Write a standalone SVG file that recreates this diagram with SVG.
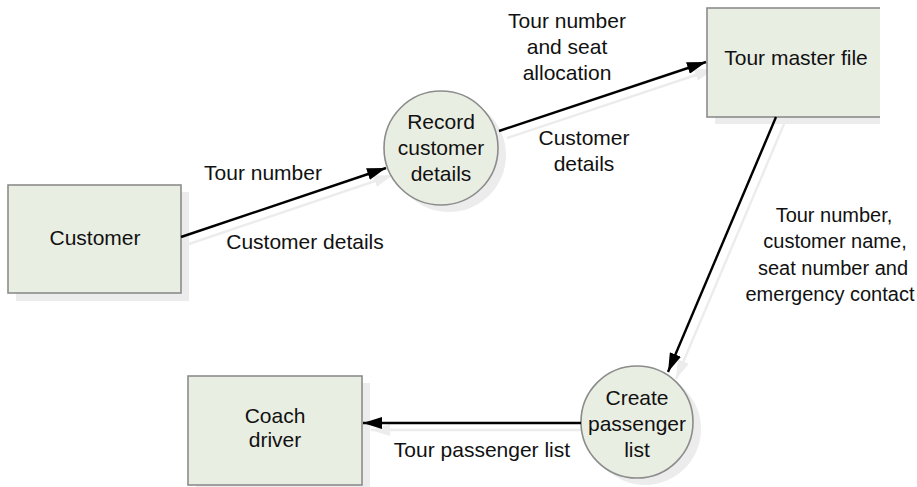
<svg xmlns="http://www.w3.org/2000/svg" width="917" height="487" viewBox="0 0 917 487">
  <style>
    .node { fill: #e9eee3; stroke: #8c8c8c; stroke-width: 1.6; }
    .shadow { fill: #ececec; stroke: none; }
    .flow { stroke: #000; stroke-width: 2.4; fill: none; marker-end: url(#arrow); }
    .flow-shadow { stroke: #ececec; stroke-width: 2.4; fill: none; marker-end: url(#arrow-shadow); }
    text { font-family: "Liberation Sans", Arial, sans-serif; font-size: 21px; fill: #111; text-anchor: middle; }
    .side { font-size: 20px; }
  </style>
  <defs>
    <marker id="arrow" markerUnits="userSpaceOnUse" markerWidth="20" markerHeight="12" refX="19" refY="6" orient="auto">
      <path d="M0,0 L19,6 L0,12 Z" fill="#000"/>
    </marker>
    <marker id="arrow-shadow" markerUnits="userSpaceOnUse" markerWidth="20" markerHeight="12" refX="19" refY="6" orient="auto">
      <path d="M0,0 L19,6 L0,12 Z" fill="#ececec"/>
    </marker>
    <clipPath id="page-edge">
      <rect x="0" y="0" width="880" height="487"/>
    </clipPath>
  </defs>

  <!-- drop shadows of the data flows -->
  <g id="flow-shadows">
    <line class="flow-shadow" x1="189" y1="244" x2="393" y2="175"/>
    <line class="flow-shadow" x1="507" y1="138" x2="714" y2="69"/>
    <line class="flow-shadow" x1="784" y1="124" x2="676" y2="379"/>
    <line class="flow-shadow" x1="589" y1="430" x2="371" y2="430"/>
  </g>

  <g id="customer">
    <rect class="shadow" x="16" y="192" width="173" height="109"/>
    <rect class="node" x="8" y="185" width="173" height="108"/>
    <text x="95" y="245">Customer</text>
  </g>

  <g id="record-customer-details">
    <circle class="shadow" cx="449" cy="155" r="57"/>
    <circle class="node" cx="441" cy="148" r="57"/>
    <text x="441" y="129">Record</text>
    <text x="441" y="155">customer</text>
    <text x="441" y="181">details</text>
  </g>

  <g id="tour-master-file" clip-path="url(#page-edge)">
    <rect class="shadow" x="715" y="15" width="173" height="109"/>
    <rect class="node" x="707" y="8" width="175" height="109"/>
    <text x="796" y="65">Tour master file</text>
  </g>

  <g id="create-passenger-list">
    <circle class="shadow" cx="645" cy="429" r="56"/>
    <circle class="node" cx="637" cy="422" r="56"/>
    <text x="637" y="405">Create</text>
    <text x="637" y="431">passenger</text>
    <text x="637" y="457">list</text>
  </g>

  <g id="coach-driver">
    <rect class="shadow" x="196" y="383" width="174" height="109"/>
    <rect class="node" x="188" y="376" width="174" height="109"/>
    <text x="275" y="423">Coach</text>
    <text x="275" y="447">driver</text>
  </g>

  <!-- data flows -->
  <g id="connectors">
    <line class="flow" x1="181" y1="237" x2="386" y2="168"/>
    <line class="flow" x1="499" y1="131" x2="706" y2="62"/>
    <line class="flow" x1="776" y1="117" x2="668" y2="372"/>
    <line class="flow" x1="581" y1="423" x2="363" y2="423"/>
  </g>

  <!-- flow labels -->
  <g id="labels">
    <text x="263" y="180">Tour number</text>
    <text x="305" y="249">Customer details</text>
    <text x="567" y="28">Tour number</text>
    <text x="567" y="54">and seat</text>
    <text x="567" y="80">allocation</text>
    <text x="584" y="145">Customer</text>
    <text x="584" y="171">details</text>
    <text class="side" x="834" y="222">Tour number,</text>
    <text class="side" x="835" y="248">customer name,</text>
    <text class="side" x="833" y="275">seat number and</text>
    <text class="side" x="830" y="301">emergency contact</text>
    <text x="482" y="457">Tour passenger list</text>
  </g>
</svg>
